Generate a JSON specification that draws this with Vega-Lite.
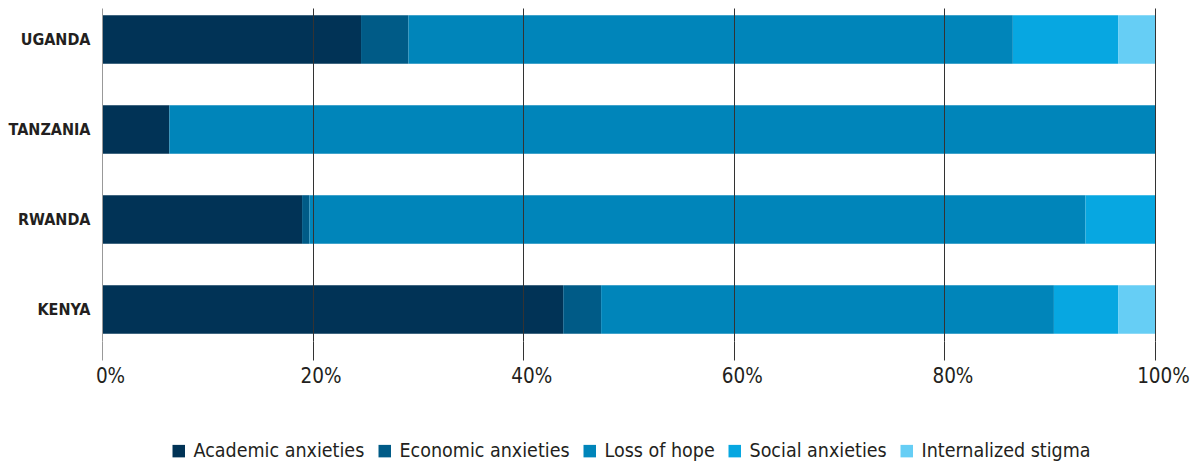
{
  "$schema": "https://vega.github.io/schema/vega-lite/v6.json",
  "width": 1053,
  "height": 333,
  "autosize": {"type": "none"},
  "padding": {"left": 102, "top": 8, "right": 37, "bottom": 120},
  "background": "white",
  "config": {
    "view": {"stroke": null},
    "font": "DejaVu Sans Condensed, Roboto, sans-serif"
  },
  "data": {
    "values": [
      {"country": "UGANDA", "category": "Academic anxieties", "order": 1, "value": 24.6},
      {"country": "UGANDA", "category": "Economic anxieties", "order": 2, "value": 4.5},
      {"country": "UGANDA", "category": "Loss of hope", "order": 3, "value": 57.4},
      {"country": "UGANDA", "category": "Social anxieties", "order": 4, "value": 10.0},
      {"country": "UGANDA", "category": "Internalized stigma", "order": 5, "value": 3.5},
      {"country": "TANZANIA", "category": "Academic anxieties", "order": 1, "value": 6.4},
      {"country": "TANZANIA", "category": "Loss of hope", "order": 3, "value": 93.6},
      {"country": "RWANDA", "category": "Academic anxieties", "order": 1, "value": 19.0},
      {"country": "RWANDA", "category": "Economic anxieties", "order": 2, "value": 0.7},
      {"country": "RWANDA", "category": "Loss of hope", "order": 3, "value": 73.7},
      {"country": "RWANDA", "category": "Social anxieties", "order": 4, "value": 6.6},
      {"country": "KENYA", "category": "Academic anxieties", "order": 1, "value": 43.8},
      {"country": "KENYA", "category": "Economic anxieties", "order": 2, "value": 3.6},
      {"country": "KENYA", "category": "Loss of hope", "order": 3, "value": 43.0},
      {"country": "KENYA", "category": "Social anxieties", "order": 4, "value": 6.1},
      {"country": "KENYA", "category": "Internalized stigma", "order": 5, "value": 3.5}
    ]
  },
  "mark": {"type": "bar"},
  "encoding": {
    "y": {
      "field": "country",
      "type": "nominal",
      "sort": ["UGANDA", "TANZANIA", "RWANDA", "KENYA"],
      "scale": {"paddingInner": 0.46, "paddingOuter": 0.08},
      "axis": {
        "title": null,
        "domain": false,
        "ticks": false,
        "labelPadding": 12,
        "labelFont": "DejaVu Sans Condensed, Roboto, sans-serif",
        "labelFontSize": 16,
        "labelFontWeight": "bold",
        "labelColor": "#231f20"
      }
    },
    "x": {
      "field": "value",
      "type": "quantitative",
      "stack": "normalize",
      "scale": {"domain": [0, 1], "nice": false},
      "axis": {
        "title": null,
        "values": [0, 0.2, 0.4, 0.6, 0.8, 1],
        "format": "%",
        "domain": false,
        "grid": true,
        "gridColor": {"condition": {"test": "datum.value === 0", "value": "#999999"}, "value": "#333333"},
        "gridWidth": 1,
        "gridOpacity": 1,
        "tickColor": {"condition": {"test": "datum.value === 0", "value": "#999999"}, "value": "#333333"},
        "tickSize": 19,
        "tickWidth": 1,
        "labelFlush": false,
        "labelOffset": 8,
        "labelPadding": 6,
        "labelFont": "DejaVu Sans Condensed, Roboto, sans-serif",
        "labelFontSize": 20.5,
        "labelColor": "#231f20",
        "zindex": 1
      }
    },
    "color": {
      "field": "category",
      "type": "nominal",
      "scale": {
        "domain": ["Academic anxieties", "Economic anxieties", "Loss of hope", "Social anxieties", "Internalized stigma"],
        "range": ["#013356", "#005b87", "#0085ba", "#07a7e1", "#66cef5"]
      },
      "legend": {
        "title": null,
        "orient": "none",
        "legendX": 67,
        "legendY": 433,
        "direction": "horizontal",
        "columns": 5,
        "padding": 0,
        "symbolType": "square",
        "symbolSize": 156,
        "symbolStrokeWidth": 0,
        "labelOffset": 5,
        "columnPadding": 10,
        "labelFont": "DejaVu Sans Condensed, Roboto, sans-serif",
        "labelFontSize": 19.5,
        "labelColor": "#231f20",
        "labelLimit": 300
      }
    },
    "order": {"field": "order", "type": "quantitative"}
  }
}
